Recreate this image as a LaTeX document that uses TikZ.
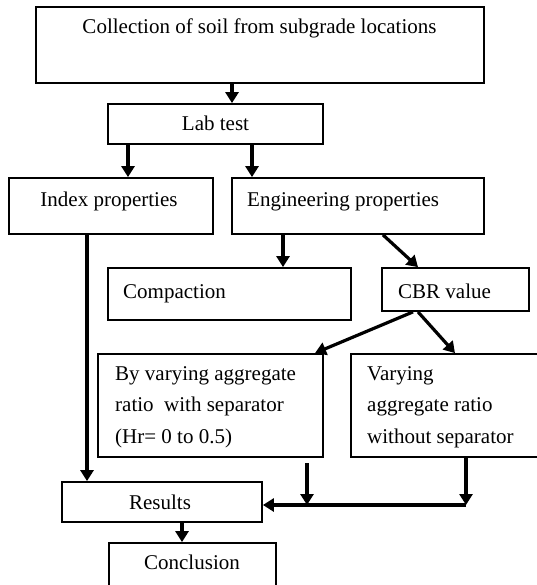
\documentclass[tikz,border=0pt]{standalone}
\usepackage{fontspec}
\setmainfont{Liberation Serif}
\usetikzlibrary{arrows.meta}
\tikzset{
  box/.style={draw=black, line width=1.8pt, inner sep=0pt, rectangle},
  lbl/.style={inner sep=0pt, font=\fontsize{21}{31.5}\selectfont, text=black},
  arr/.style={line width=3.2pt, -{Triangle[width=13pt,length=11pt]}}
}
\begin{document}
\begin{tikzpicture}[x=1pt,y=-1pt]
\useasboundingbox (0,0) rectangle (536,585);
% boxes
\node[box, minimum width=448, minimum height=76] (top) at (260,45) {};
\node[box, minimum width=215, minimum height=40] (lab) at (215.5,124) {};
\node[box, minimum width=204, minimum height=56] (index) at (111,206) {};
\node[box, minimum width=252, minimum height=56] (eng) at (358,206) {};
\node[box, minimum width=243, minimum height=52] (comp) at (229.5,294) {};
\node[box, minimum width=147, minimum height=43] (cbr) at (455.5,289.5) {};
\node[box, minimum width=225, minimum height=103] (byv) at (210.5,405.5) {};
\node[box, minimum width=209, minimum height=103] (vary) at (455.5,405.5) {};
\node[box, minimum width=200, minimum height=40] (results) at (162,502) {};
\node[box, minimum width=167, minimum height=52] (concl) at (192.5,569) {};
% texts
\node[lbl, anchor=base] (ttop) at (259.5,34) {Collection of soil from subgrade locations};
\node[lbl, anchor=base] (tlab) at (215.5,131) {Lab test};
\node[lbl, anchor=base] (tindex) at (109,206) {Index properties};
\node[lbl, anchor=base west] (teng) at (247,206) {Engineering properties};
\node[lbl, anchor=base west] (tcomp) at (123,298) {Compaction};
\node[lbl, anchor=base west] (tcbr) at (398,298) {CBR value};
\node[lbl, anchor=base west] (tbyv) at (115,380) {\begin{tabular}[t]{@{}l@{}}By varying aggregate\\ratio~ with separator\\(Hr= 0 to 0.5)\end{tabular}};
\node[lbl, anchor=base west] (tvary) at (367,380) {\begin{tabular}[t]{@{}l@{}}Varying\\aggregate ratio\\without separator\end{tabular}};
\node[lbl, anchor=base] (tres) at (160,509) {Results};
\node[lbl, anchor=base] (tconc) at (192,569) {Conclusion};
% helper coordinates
\coordinate (byvout) at (307,463);
\coordinate (j1) at (307,505);
\coordinate (j2) at (466,505);
% connectors
\draw[arr] (top.south -| 232,0) -- (lab.north -| 232,0);
\draw[arr] (lab.south -| 128,0) -- (index.north -| 128,0);
\draw[arr] (lab.south -| 252,0) -- (eng.north -| 252,0);
\draw[arr] (eng.south -| 283,0) -- (comp.north -| 283,0);
\draw[arr] (eng.south -| 383,0) -- (cbr.north -| 418,0);
\draw[arr] (cbr.south -| 413,0) -- (byv.north -| 315,0);
\draw[arr] (cbr.south -| 418,0) -- (vary.north -| 455,0);
\draw[arr] (index.south -| 87,0) -- (results.north -| 87,0);
\draw[arr] (byvout) -- (j1);
\draw[arr] (vary.south -| j2) -- (j2);
\draw[arr] (j2) -- (results.east |- j2);
\draw[arr] (results.south -| 182,0) -- (concl.north -| 182,0);
\end{tikzpicture}
\end{document}
